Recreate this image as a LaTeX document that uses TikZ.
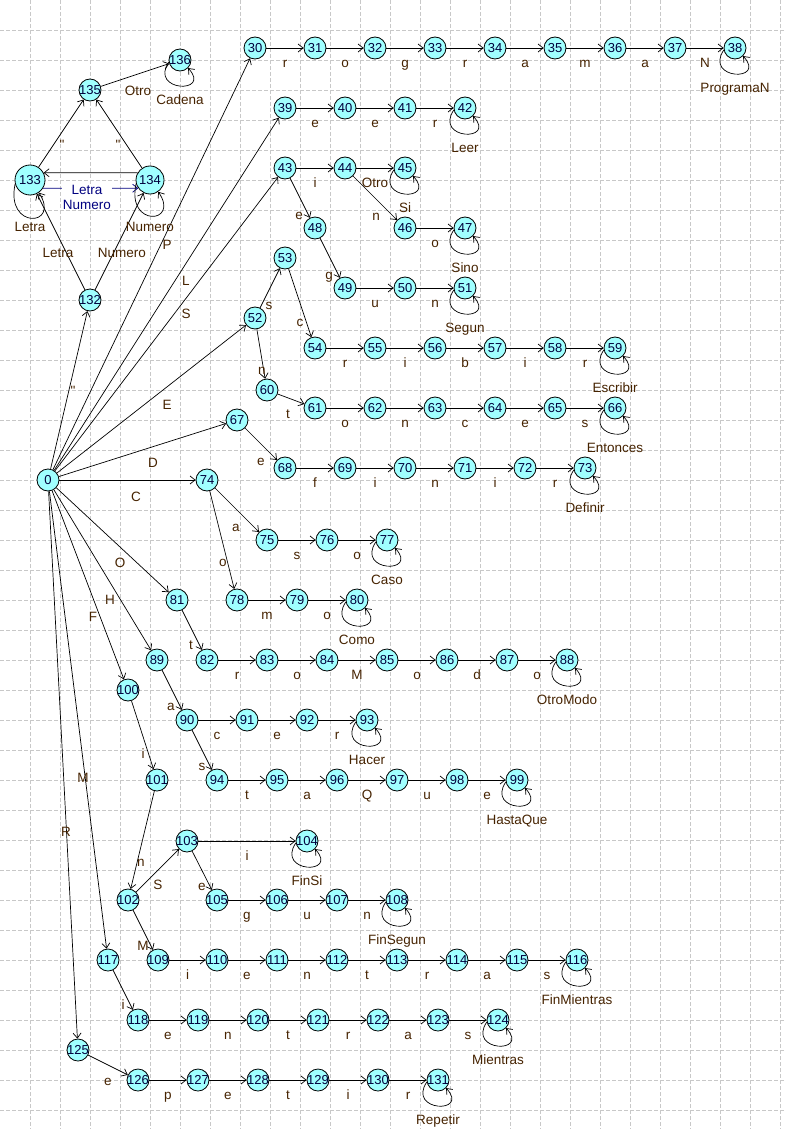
\documentclass[tikz,border=0pt]{standalone}
\usepackage{fontspec}
\setmainfont{Liberation Sans}[Ligatures=TeXOff]
\usetikzlibrary{arrows.meta}
\definecolor{nodefill}{RGB}{160,255,255}
\definecolor{nodetext}{RGB}{0,0,60}
\definecolor{lblcol}{RGB}{70,35,0}
\definecolor{navyc}{RGB}{0,0,128}
\definecolor{gridcol}{RGB}{200,200,200}
\newcommand\fnt{\fontsize{13.5}{15}\selectfont}
\newcommand\nfnt{\fontsize{13}{15}\selectfont}
\newcommand\stn[3]{\node[st] (n#1) at (#2,#3) {\makebox[0pt]{#1}};}
\newcommand\he[3]{\draw[ed] (n#1) -- (n#2) node[lb, midway, yshift=-16.5pt] (e#1-#2) {#3};}
\newcommand\de[5]{\draw[ed] (n#1) -- (n#2); \node[lb] (e#1-#2) at (#4,#5) {#3};}
\newcommand\lp[2]{\draw[ed] (n#1.190) .. controls +(-20,30) and +(24,26) .. (n#1.-45); \node[lb] (l#1) at ([yshift=-41pt]n#1.center) {#2};}
\tikzset{
  st/.style={circle, draw=black, line width=0.8pt, fill=nodefill, minimum size=22pt, inner sep=0pt, text=nodetext, font=\nfnt},
  lb/.style={text=lblcol, font=\fnt, inner sep=0pt, text height=9.5pt, text depth=3pt},
  ed/.style={-{Straight Barb[length=5pt,width=8pt]}, line width=0.7pt, draw=black},
  gridline/.style={draw=gridcol, line width=0.8pt, dash pattern=on 4pt off 2pt}
}
\begin{document}
\begin{tikzpicture}[x=1pt,y=-1pt]
\fill[white] (0,0) rectangle (784,1129);
\useasboundingbox (0,0) rectangle (784,1129);
\foreach \i in {1,...,26} \draw[gridline] (30*\i,0) -- (30*\i,1129);
\foreach \j in {1,...,37} \draw[gridline] (0,30*\j) -- (784,30*\j);

% nodes
\stn{0}{48}{480}
\stn{132}{90}{300}
\node[st, minimum size=30pt] (n133) at (30,180) {133};
\node[st, minimum size=28pt] (n134) at (150,180) {134};
\stn{135}{90}{90}
\stn{136}{180}{60}
\foreach \i [count=\k from 0] in {30,...,38} \stn{\i}{255+60*\k}{48};
\foreach \i [count=\k from 0] in {39,...,42} \stn{\i}{285+60*\k}{108};
\stn{43}{285}{168} \stn{44}{345}{168} \stn{45}{405}{168}
\stn{48}{315}{228} \stn{46}{405}{228} \stn{47}{465}{228}
\stn{53}{285}{258}
\stn{49}{345}{288} \stn{50}{405}{288} \stn{51}{465}{288}
\stn{52}{255}{318}
\foreach \i [count=\k from 0] in {54,...,59} \stn{\i}{315+60*\k}{348};
\stn{60}{267}{390}
\foreach \i [count=\k from 0] in {61,...,66} \stn{\i}{315+60*\k}{408};
\stn{67}{237}{420}
\foreach \i [count=\k from 0] in {68,...,73} \stn{\i}{285+60*\k}{468};
\stn{74}{207}{480}
\foreach \i [count=\k from 0] in {75,...,77} \stn{\i}{267+60*\k}{540};
\stn{81}{177}{600}
\foreach \i [count=\k from 0] in {78,...,80} \stn{\i}{237+60*\k}{600};
\stn{89}{157}{660}
\foreach \i [count=\k from 0] in {82,...,88} \stn{\i}{207+60*\k}{660};
\stn{100}{128}{690}
\foreach \i [count=\k from 0] in {90,...,93} \stn{\i}{187+60*\k}{720};
\stn{101}{157}{780}
\foreach \i [count=\k from 0] in {94,...,99} \stn{\i}{217+60*\k}{780};
\stn{103}{187}{841} \stn{104}{307}{841}
\stn{102}{128}{900}
\foreach \i [count=\k from 0] in {105,...,108} \stn{\i}{217+60*\k}{900};
\stn{117}{108}{960} \stn{109}{158}{960}
\foreach \i [count=\k from 0] in {110,...,116} \stn{\i}{217+60*\k}{960};
\foreach \i [count=\k from 0] in {118,...,124} \stn{\i}{138+60*\k}{1020};
\stn{125}{78}{1050}
\foreach \i [count=\k from 0] in {126,...,131} \stn{\i}{138+60*\k}{1080};

% horizontal edges
\foreach \a/\b/\l in {30/31/r,31/32/o,32/33/g,33/34/r,34/35/a,35/36/m,36/37/a,37/38/N,
  39/40/e,40/41/e,41/42/r,43/44/i,44/45/Otro,46/47/o,49/50/u,50/51/n,
  54/55/r,55/56/i,56/57/b,57/58/i,58/59/r,61/62/o,62/63/n,63/64/c,64/65/e,65/66/s,
  68/69/f,69/70/i,70/71/n,71/72/i,72/73/r,75/76/s,76/77/o,78/79/m,79/80/o,
  82/83/r,83/84/o,84/85/M,85/86/o,86/87/d,87/88/o,90/91/c,91/92/e,92/93/r,
  94/95/t,95/96/a,96/97/Q,97/98/u,98/99/e,103/104/i,105/106/g,106/107/u,107/108/n,
  109/110/i,110/111/e,111/112/n,112/113/t,113/114/r,114/115/a,115/116/s,
  118/119/e,119/120/n,120/121/t,121/122/r,122/123/a,123/124/s,
  126/127/p,127/128/e,128/129/t,129/130/i,130/131/r}
  \he{\a}{\b}{\l};

% diagonal edges
\de{0}{132}{"}{73}{392}
\de{0}{30}{P}{167}{246}
\de{0}{39}{L}{186}{282}
\de{0}{43}{S}{186}{315}
\de{0}{52}{E}{167}{406}
\de{0}{67}{D}{153}{464}
\de{0}{74}{C}{136}{498}
\de{0}{81}{O}{120}{564}
\de{0}{89}{H}{110}{601}
\de{0}{100}{F}{93}{618}
\de{0}{117}{M}{83}{779}
\de{0}{125}{R}{66}{833}
\de{132}{133}{Letra}{58}{254}
\de{132}{134}{Numero}{122}{254}
\de{133}{135}{"}{62}{146}
\de{134}{135}{"}{118}{146}
\de{135}{136}{Otro}{138}{92}
\de{44}{46}{n}{376}{217}
\de{43}{48}{e}{299}{216}
\de{48}{49}{g}{329}{276}
\de{52}{53}{s}{269}{306}
\de{53}{54}{c}{300}{323}
\de{52}{60}{n}{262}{371}
\de{60}{61}{t}{288}{415}
\de{67}{68}{e}{261}{462}
\de{74}{75}{a}{236}{528}
\de{74}{78}{o}{223}{563}
\de{81}{82}{t}{191}{646}
\de{89}{90}{a}{171}{707}
\de{90}{94}{s}{202}{767}
\de{100}{101}{i}{143}{755}
\de{101}{102}{n}{141}{863}
\de{102}{103}{S}{158}{886}
\de{103}{105}{e}{202}{887}
\de{102}{109}{M}{143}{947}
\de{117}{118}{i}{123}{1006}
\de{125}{126}{e}{108}{1082}

% 133 <-> 134
\draw[ed] (n134.150) -- (n133.28);
\draw[ed, draw=navyc] (n133.-32) -- (n134.215);
\node[text=navyc, font=\fnt, fill=white, align=center, inner sep=1pt] (e133-134) at (87,197) {Letra\\Numero};

% loops
\draw[ed] (n133.195) .. controls +(-10,46) and +(22,34) .. (n133.-55);
\node[lb] (l133) at (30,228) {Letra};
\draw[ed] (n134.195) .. controls +(-10,44) and +(22,32) .. (n134.-55);
\node[lb] (l134) at (150,228) {Numero};
\lp{136}{Cadena}
\lp{38}{ProgramaN}
\lp{42}{Leer}
\lp{45}{Si}
\lp{47}{Sino}
\lp{51}{Segun}
\lp{59}{Escribir}
\lp{66}{Entonces}
\lp{73}{Definir}
\lp{77}{Caso}
\lp{80}{Como}
\lp{88}{OtroModo}
\lp{93}{Hacer}
\lp{99}{HastaQue}
\lp{104}{FinSi}
\lp{108}{FinSegun}
\lp{116}{FinMientras}
\lp{124}{Mientras}
\lp{131}{Repetir}
\end{tikzpicture}
\end{document}
